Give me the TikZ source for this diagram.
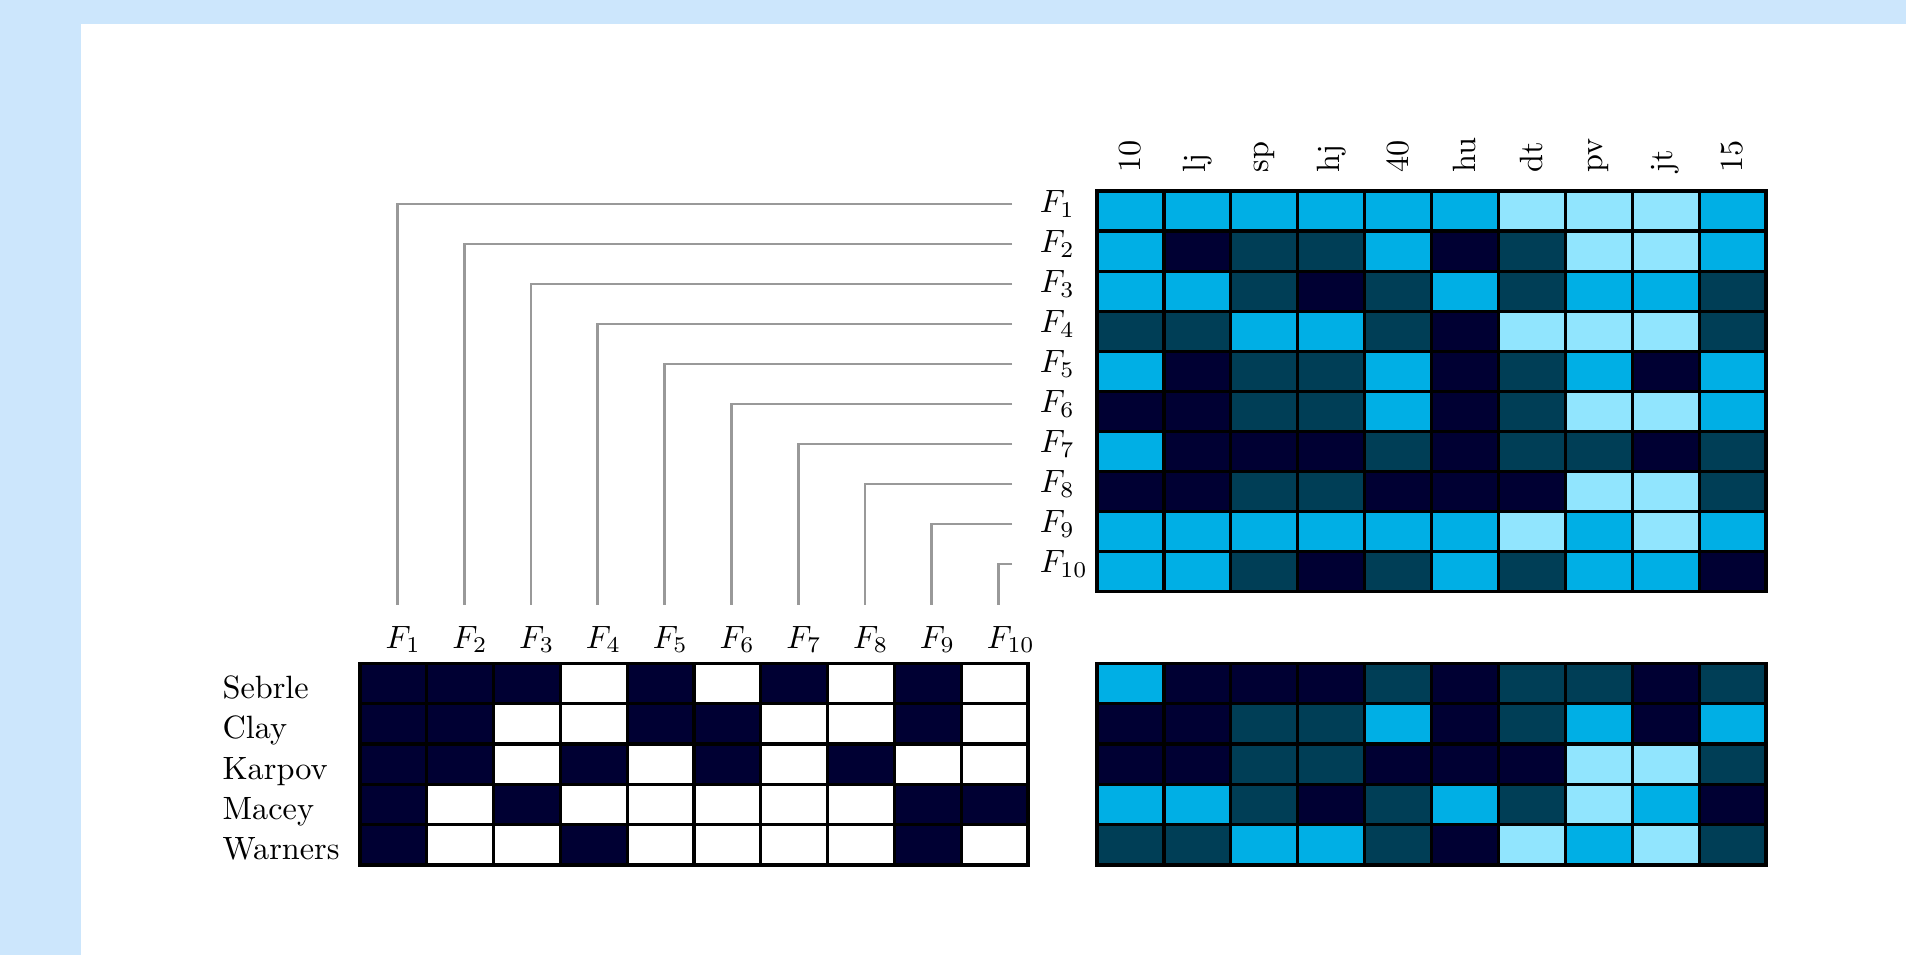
\documentclass[tikz,border=0pt]{standalone}
\definecolor{bgblue}{HTML}{CCE6FC}
\definecolor{cN}{HTML}{000033}
\definecolor{cT}{HTML}{003E56}
\definecolor{cC}{HTML}{00AFE5}
\definecolor{cL}{HTML}{91E5FE}
\definecolor{cW}{HTML}{FFFFFF}
\definecolor{linkgray}{HTML}{999999}
\begin{document}
\begin{tikzpicture}[x=0.31pt,y=-0.31pt,
  cell/.style={draw=black,line width=1pt},
  link/.style={draw=linkgray,line width=0.9pt},
  lab/.style={inner sep=0pt},
  rowlab/.style={anchor=west,inner xsep=8.4pt,inner ysep=0pt}]
\useasboundingbox (0,0) rectangle (1906,955);
\fill[bgblue] (0,0) rectangle (1906,955);
\fill[white] (81,24) rectangle (1906,955);

% top-right grid
\foreach \row [count=\i] in {
  {C,C,C,C,C,C,L,L,L,C},
  {C,N,T,T,C,N,T,L,L,C},
  {C,C,T,N,T,C,T,C,C,T},
  {T,T,C,C,T,N,L,L,L,T},
  {C,N,T,T,C,N,T,C,N,C},
  {N,N,T,T,C,N,T,L,L,C},
  {C,N,N,N,T,N,T,T,N,T},
  {N,N,T,T,N,N,N,L,L,T},
  {C,C,C,C,C,C,L,C,L,C},
  {C,C,T,N,T,C,T,C,C,N}}{
  \foreach \c [count=\j] in \row {
    \draw[cell,fill=c\c] ({1097+(\j-1)*66.9},{191+(\i-1)*40.07}) rectangle +(66.9,40.07);
  }
}
% bottom-right grid
\foreach \row [count=\i] in {
  {C,N,N,N,T,N,T,T,N,T},
  {N,N,T,T,C,N,T,C,N,C},
  {N,N,T,T,N,N,N,L,L,T},
  {C,C,T,N,T,C,T,L,C,N},
  {T,T,C,C,T,N,L,C,L,T}}{
  \foreach \c [count=\j] in \row {
    \draw[cell,fill=c\c] ({1097+(\j-1)*66.9},{663.3+(\i-1)*40.34}) rectangle +(66.9,40.34);
  }
}
% bottom-left binary grid
\foreach \row [count=\i] in {
  {N,N,N,W,N,W,N,W,N,W},
  {N,N,W,W,N,N,W,W,N,W},
  {N,N,W,N,W,N,W,N,W,W},
  {N,W,N,W,W,W,W,W,N,N},
  {N,W,W,N,W,W,W,W,N,W}}{
  \foreach \c [count=\j] in \row {
    \draw[cell,fill=c\c] ({360+(\j-1)*66.8},{663.3+(\i-1)*40.34}) rectangle +(66.8,40.34);
  }
}

% column labels (rotated)
\foreach \t [count=\j] in {10,lj,sp,hj,40,hu,dt,pv,jt,15}{
  \node[lab,rotate=90,anchor=west] (col\j) at ({1097+(\j-0.5)*66.9},173) {\t};
}

% row labels of the top grid
\foreach \i in {1,...,10}{
  \node[rowlab] (T\i) at (1012,{204+(\i-1)*40}) {$F_{\i}$};
}
% column labels of the bottom-left grid
\foreach \j in {1,...,10}{
  \node[lab,anchor=base west] (B\j) at ({360+(\j-0.5)*66.8-8.5},648) {$F_{\j}$};
}
% connectors
\foreach \j in {1,...,10}{
  \draw[link] (T\j.west) -| ([xshift=12.5*0.31pt,yshift=20*0.31pt]B\j.north west);
}

% names
\foreach \n [count=\i] in {Sebrle,Clay,Karpov,Macey,Warners}{
  \node[lab,anchor=base west] (name\i) at (222,{663.3+(\i-0.5)*40.34+15}) {\n};
}
\end{tikzpicture}
\end{document}
